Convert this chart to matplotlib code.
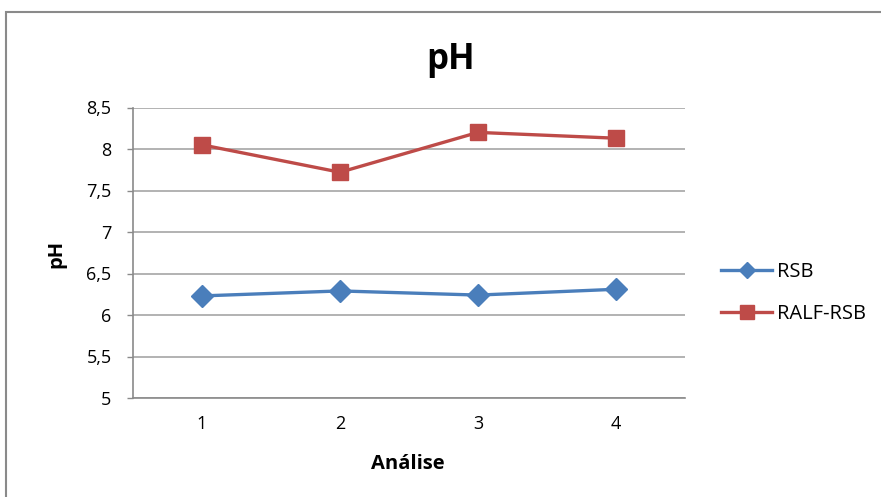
import matplotlib
matplotlib.use('Agg')
import matplotlib.pyplot as plt
from matplotlib.patches import Rectangle

# == dados =====================================================================
analise  = [1, 2, 3, 4]
rsb      = [6.23, 6.29, 6.24, 6.31]
ralf_rsb = [8.05, 7.72, 8.20, 8.13]
y_ticks  = [5, 5.5, 6, 6.5, 7, 7.5, 8, 8.5]
y_labels = ['5', '5,5', '6', '6,5', '7', '7,5', '8', '8,5']
# =============================================================================

plt.rcParams['font.family'] = ['Open Sans', 'DejaVu Sans']

W, H = 881, 497
fig = plt.figure(figsize=(W / 100, H / 100), dpi=100)
ax = fig.add_axes([133 / W, 1 - 398 / H, (685 - 133) / W, (398 - 107.5) / H])

# moldura do gráfico
fig.patches.append(Rectangle((6 / W, -0.1), 1.2, 1 - 12 / H + 0.1,
                             transform=fig.transFigure, fill=False,
                             edgecolor='#8a8a8a', linewidth=1.5))

ax.plot(analise, rsb, color='#4a7ebb', lw=2.4, marker='D', ms=11.5,
        label='RSB')
ax.plot(analise, ralf_rsb, color='#be4b48', lw=2.4, marker='s', ms=12,
        label='RALF-RSB')

ax.set_xlim(0.5, 4.5)
ax.set_ylim(5, 8.5)
ax.set_xticks(analise)
ax.set_yticks(y_ticks)
ax.set_yticklabels(y_labels)
ax.tick_params(axis='x', length=0, pad=12, labelsize=13)
ax.tick_params(axis='y', length=4.5, width=1, color='#8a8a8a', pad=11, labelsize=13)
ax.grid(axis='y', color='#a6a6a6', lw=1.2)
ax.set_axisbelow(True)
for s in ['top', 'right']:
    ax.spines[s].set_visible(False)
for s in ['left', 'bottom']:
    ax.spines[s].set_color('#8a8a8a')
    ax.spines[s].set_linewidth(1.2)

fig.text(451 / W, 1 - 60 / H, 'pH', ha='center', va='center',
         fontsize=25, fontweight='bold')
fig.text(56 / W, 1 - 254 / H, 'pH', ha='center', va='center', rotation=90,
         fontsize=14.5, fontweight='bold')
fig.text(408 / W, 1 - 464 / H, 'Análise', ha='center', va='center',
         fontsize=14.5, fontweight='bold')

leg = fig.legend(loc='center left', bbox_to_anchor=(721 / W, 1 - 293 / H),
                 frameon=False, fontsize=14.5, handlelength=2.55,
                 labelspacing=1.1, handletextpad=0.25, borderpad=0,
                 borderaxespad=0)
leg.legend_handles[0].set_markersize(8.5)
leg.legend_handles[1].set_markersize(10.5)

fig.savefig('out.png', dpi=100)
